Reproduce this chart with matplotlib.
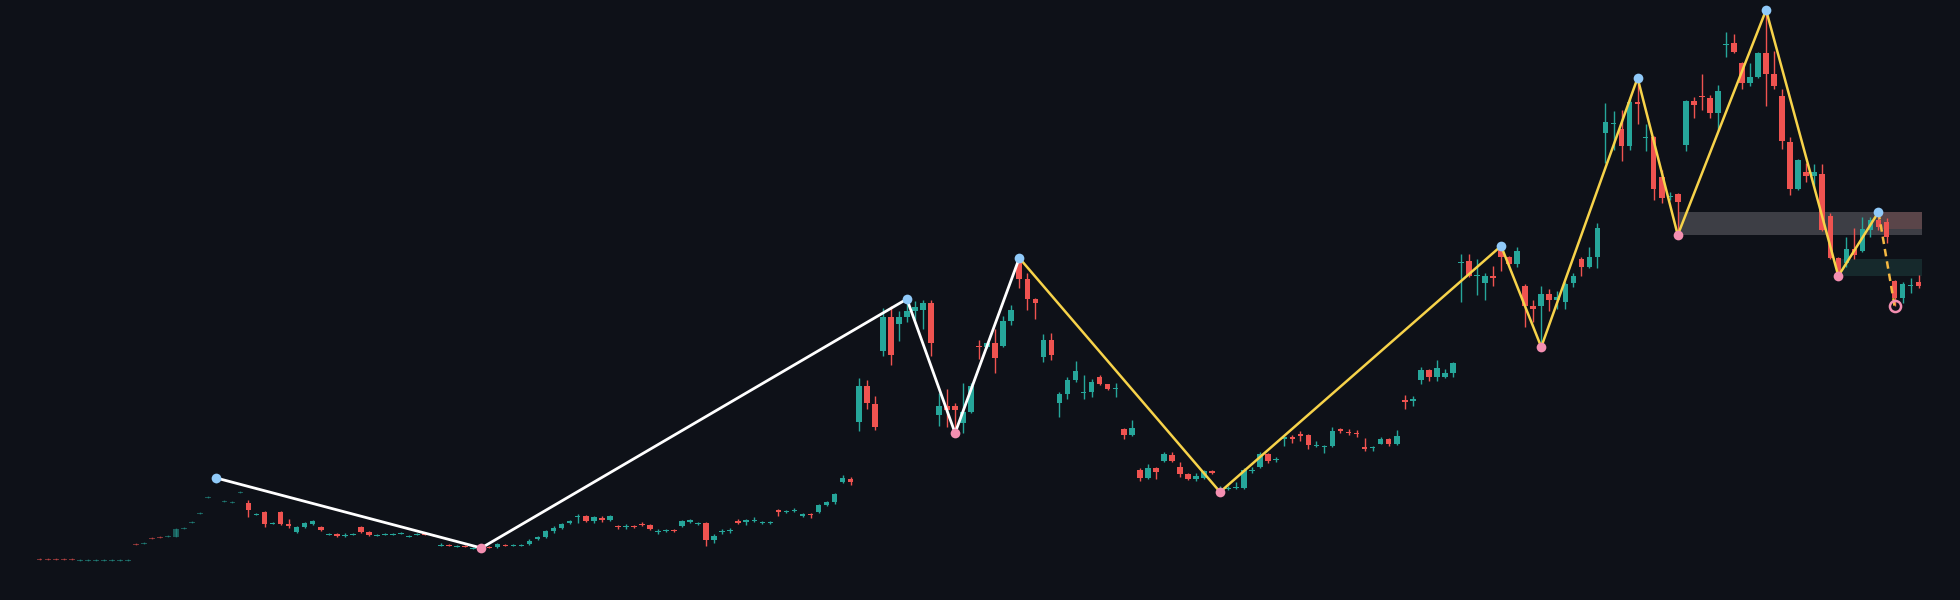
import matplotlib
matplotlib.use("Agg")
import matplotlib.pyplot as plt
from matplotlib.patches import Rectangle

# Candles: [open, close, high, low] in chart units (axis is inverted: smaller value = higher on chart)
candles = (
    [[558.5,559.5,558,560]]*5 + [[560.5,559.5,559,561]]*7 + [
    [543.5,544.5,543,545],[543.5,542.5,542,544],[537.5,538.5,537,539],[536.5,537.5,536,538],
    [536.5,535.5,535,537],[537,529,528,537],[528.5,527.5,527,529],[522.5,521.5,521,523],
    [513.5,512.5,512,514],[497.5,496.5,496,498],[482,480,478,483],[501.5,500.5,500,502],
    [502.5,501.5,501,503],[492.5,491.5,491,493],[503,510,500,517],[514.5,513.5,513,515],
    [512,524,511,527],[523.5,522.5,522,524],[512,524,511,525],[524,526,519,528],
    [532,527,526,533],[527,523,522,528],[524,521,520,525],[527,530,526,531],
    [534.5,533.5,533,535],[534,536,533,537],[536,535,533,537],[534.5,533.5,533,535],
    [527,532,526,533],[532,535,531,536],[535.5,534.5,534,536],[534.5,533.5,533,535],
    [534.5,533.5,533,535],[533.5,532.5,532,534],[536.5,535.5,535,537],[534.5,533.5,533,535],
    [533.5,534.5,533,535],[534.5,535.5,534,536],[545.5,544.5,543,546],[544.5,545.5,544,546],
    [546.5,545.5,545,547],[545.5,546.5,545,547],[548.5,547.5,547,549],[546,547,545,548],
    [546.5,547.5,546,548],[547,544,543,548],[544.5,545.5,544,546],[545.5,544.5,544,546],
    [545.5,544.5,544,546],[544,541,539,545],[539,537,536,540],[537,531,530,538],
    [531,528,526,533],[528,524,523,529],[523,521,520,524],[517,516,514,523],
    [516,521,515,522],[521,517,516,523],[518,520,516,522],[520,516,515,521],
    [526,527,525,529],[527,526,524,529],[526,527,525,528],[524,525,522,526],
    [525,529,524,530],[532,531,529,534],[531,530,529,532],[530,531,529,532],
    [526,521,520,527],[522,520,519,523],[524,523,522,525],[523,540,522,546],
    [540,536,534,543],[532,531,529,534],[531,530,528,533],[521,523,519,524],
    [522,520,519,525],[521,520,517,522],[523,522,521,524],[523,522,521,523.5],
    [510,512,509,516],[512,511,510,513],[511,510,508,512],[516,514,513,517],
    [514,515,513,518],[512,505,504,513],[505,502,501,506],[502,494,493,504],
    [482,478,475,483],[479,482,477,485],[422,386,378,431],[386,403,380,409],
    [404,427,396,430],[351,317,308,356],[317,355,306,365],[324,317,311,341],
    [317,311,299,322],[311,307,301,320],[310,303,300,329],[303,343,300,356],
    [415,406,393,426],[406,410,389,427],[406,410,403,433],[423,412,383,433],
    [412,386,383,413],[346,347,340,359],[347,343,342,348],[343,358,329,373],
    [346,321,316,347],[321,310,305,325],[260,279,258,288],[279,299,273,310],
    [299,303,298,319],[357,340,334,362],[340,355,333,360],[403,394,392,417],
    [394,380,377,399],[380,371,361,382],[393,392,375,399],[392,382,379,397],
    [377,384,375,385],[384,389,384,390],[389,388,383,397],[429,435,428,439],
    [435,428,420,436],[470,478,468,481],[478,468,464,479],[468,472,467,479],
    [461,454,452,462],[455,461,452,462],[467,474,462,477],[474,479,473,480],
    [479,476,473,481],[478,471,470,479],[471,473,470,474],[490,489,486,492],
    [488.5,487.5,486,490],[487.5,486.5,482,489],[488,470,468,489],[470.5,469.5,467,473],
    [467,454,452,468],[454,461,453,463],[460,459,457,462],[439,437,436,446],
    [437,439,435,443],[434,436,431,441],[435,445,434,449],[445.5,444.5,441,447],
    [447,446,445,453],[446,431,427,447],[429,431,428,433],[432,433,429,435],
    [433,434,430,437],[447,449,438,451],[448,447,446,451],[444,439,437,444],
    [439,444,438,446],[444,436,430,445],[400,402,395,409],[401,399,396,406],
    [380,370,367,384],[370,377,369,381],[377,368,360,381],[377,373,369,378],
    [373,363,362,377],[262.5,261.5,254,302],[261,276,254,277],[275.5,274.5,259,295],
    [283,276,273,300],[276,278,266,286],[247,257,246,271],[257,264,256,265],
    [264,251,247,267],[286,306,284,327],[306,309,300,322],[306,294,286,347],
    [294,300,289,311],[300,297,291,309],[302,284,282,309],[283,276,273,287],
    [259,267,257,276],[267,257,247,268],[257,228,223,268],[133,122,103,163],
    [123.5,122.5,111,150],[129,146,110,161],[146,102,97,150],[102,104,78,124],
    [138,137,124,151],[137,189,136,200],[177,198,170,203],[196.5,195.5,192,200],
    [194,202,193,235],[145,101,100,151],[101,105,97,118],[96,97,74,110],
    [98,113,95,118],[113,91,85,130],[44.5,43.5,32,57],[43,52,34,53],
    [63,83,62,89],[83,77,63,86],[77,53,52,78],[53,74,10,106],
    [74,86,51,89],[96,141,89,149],[142,189,137,195],[189,160,159,190],
    [172,176,163,182],[176,172,164,187],[174,230,164,231],[216,258,213,259],
    [258,273,257,276],[263,249,237,267],[249,255,228,259],[251,229,217,252],
    [230,220,217,237],[220,227,212,230],[222,237,218,243],[281,298,280,306],
    [298,284,282,303],[285.5,284.5,278,293],[282,286,275,288]])

opens = [c[0] for c in candles]
closes = [c[1] for c in candles]
highs = [c[2] for c in candles]
lows = [c[3] for c in candles]
days = list(range(len(candles)))

# zigzag pivots: (day index, 'H' or 'L')
pivots_white = [(22,'H'),(55,'L'),(108,'H'),(114,'L'),(122,'H')]
pivots_yellow = [(122,'H'),(147,'L'),(182,'H'),(187,'L'),(199,'H'),(204,'L'),(215,'H'),(224,'L'),(229,'H')]
pivot_projected = [(229,'H'),(231,'L')]

# zones: (start day, end day, top, bottom, colour)
zones = [(204, 234.4, 212, 235, '#3d3e45'),
         (229, 234.4, 212, 229, '#5a4549'),
         (224, 234.4, 259, 276, '#16292c')]

dim_until = 25

BG = '#0e1118'
UP = '#26a69a'
DN = '#ef5350'

fig = plt.figure(figsize=(19.6, 6), dpi=100, facecolor=BG)
ax = fig.add_axes([0, 0, 1, 1])
ax.set_facecolor(BG)
ax.set_xlim(-4.94, 239.15)
ax.set_ylim(600, 0)
ax.axis('off')

for (x0, x1, top, bot, col) in zones:
    ax.add_patch(Rectangle((x0, top), x1 - x0, bot - top, facecolor=col, edgecolor='none', zorder=1))

w = 0.7
for d, o, c, h, l in zip(days, opens, closes, highs, lows):
    col = UP if c < o else DN
    a = 0.5 if d <= dim_until else 1.0
    ax.vlines(d, h, l, color=col, lw=1, alpha=a, zorder=2)
    top = min(o, c); ht = max(abs(o - c), 0.9)
    ax.add_patch(Rectangle((d - w/2, top), w, ht, facecolor=col, edgecolor='none', alpha=a, zorder=3))

def pts(pv):
    xs = [p[0] for p in pv]
    ys = [highs[p[0]] if p[1] == 'H' else lows[p[0]] for p in pv]
    return xs, ys

xs, ys = pts(pivots_white)
ax.plot(xs, ys, color='white', lw=2, zorder=4)
xs2, ys2 = pts(pivots_yellow)
ax.plot(xs2, ys2, color='#f7d34a', lw=1.8, zorder=4)
xs3, ys3 = pts(pivot_projected)
ax.plot(xs3, ys3, color='#f5b942', lw=1.8, ls=(0, (3, 2)), zorder=4)

for pv in (pivots_white, pivots_yellow[1:]):
    for d, k in pv:
        y = highs[d] if k == 'H' else lows[d]
        ax.plot(d, y, 'o', ms=7, color='#90caf9' if k == 'H' else '#f48fb1', mec='none', zorder=5)
d, k = pivot_projected[1]
ax.plot(d, lows[d], 'o', ms=8, mfc='none', mec='#f48fb1', mew=1.8, zorder=5)

fig.savefig('out.png', dpi=100, facecolor=BG)
